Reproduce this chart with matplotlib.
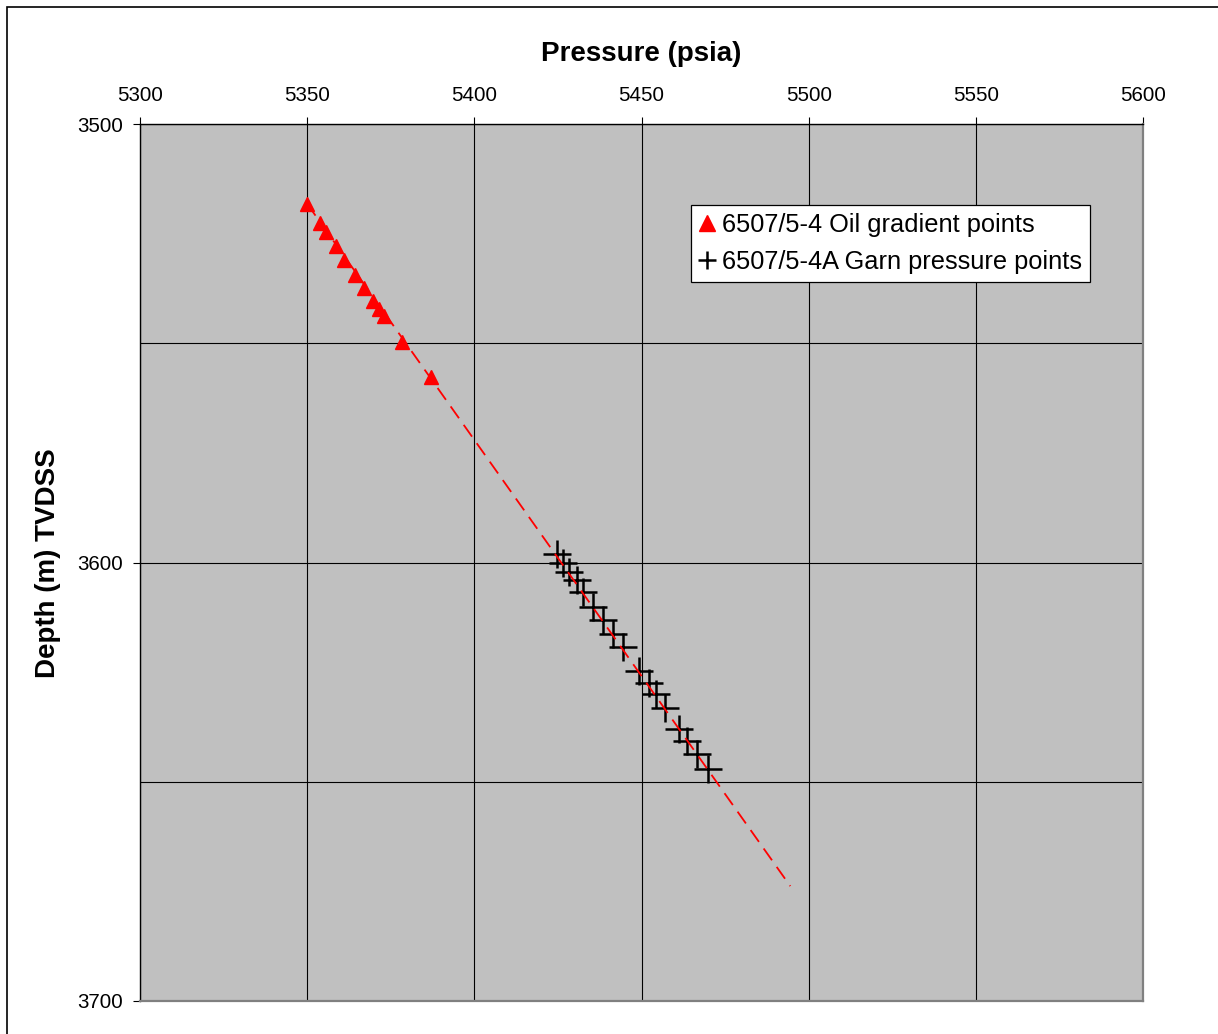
import matplotlib
matplotlib.use("Agg")
import matplotlib.pyplot as plt
from matplotlib.lines import Line2D
from matplotlib.patches import Rectangle
from matplotlib.ticker import MultipleLocator

plt.rcParams['font.family'] = ['Liberation Sans', 'DejaVu Sans']

# ---- data ----
oil_pressure = [5350.0, 5353.8, 5355.6, 5358.6, 5361.0, 5364.3, 5367.0, 5369.7,
                5371.5, 5373.0, 5378.4, 5387.0]
oil_depth = [3518.2, 3522.6, 3524.6, 3527.8, 3531.0, 3534.4, 3537.4, 3540.4,
             3542.2, 3543.8, 3549.7, 3557.7]

garn_pressure = [5424.8, 5426.6, 5428.4, 5430.6, 5432.6, 5435.6, 5438.6, 5441.6,
                 5444.4, 5449.2, 5452.2, 5454.3, 5457.1, 5461.3, 5463.7, 5466.7,
                 5470.0]
garn_depth = [3598.1, 3600.2, 3602.1, 3604.0, 3606.8, 3610.1, 3613.1, 3616.3,
              3619.2, 3624.7, 3627.5, 3630.0, 3633.2, 3638.0, 3640.6, 3643.7,
              3647.0]

gradient_pressure = [5350.0, 5494.5]
gradient_depth = [3518.2, 3673.8]

x_ticks = [5300, 5350, 5400, 5450, 5500, 5550, 5600]
y_ticks = [3500, 3600, 3700]

legend_labels = ["6507/5-4 Oil gradient points", "6507/5-4A Garn pressure points"]
x_title = "Pressure (psia)"
y_title = "Depth (m) TVDSS"

# ---- figure ----
W, H = 1218, 1034
fig = plt.figure(figsize=(W / 100, H / 100), dpi=100)
L, R, T, B = 140, 1143, 124, 1001
ax = fig.add_axes([L / W, (H - B) / H, (R - L) / W, (B - T) / H])
ax.set_facecolor('#C0C0C0')

ax.set_xlim(5300, 5600)
ax.set_ylim(3700, 3500)
ax.set_xticks(x_ticks)
ax.set_yticks(y_ticks)
ax.yaxis.set_minor_locator(MultipleLocator(50))
ax.tick_params(axis='y', which='minor', length=0)

ax.xaxis.tick_top()
ax.tick_params(axis='x', which='major', direction='out', length=5, width=0.8,
               labelsize=14.8, pad=8.5, colors='black')
ax.tick_params(axis='y', which='major', direction='out', length=5, width=0.8,
               labelsize=14.8, pad=7.0, colors='black')

ax.grid(True, which='both', color='black', linewidth=0.8)
ax.set_axisbelow(True)

for side in ['top', 'left']:
    ax.spines[side].set_color('black')
    ax.spines[side].set_linewidth(1.0)
for side in ['right', 'bottom']:
    ax.spines[side].set_color('#808080')
    ax.spines[side].set_linewidth(1.6)

ax.plot(garn_pressure, garn_depth, linestyle='none', marker='+',
        markersize=19.5, markeredgewidth=1.8, color='black', zorder=3)
ax.plot(gradient_pressure, gradient_depth, color='#FF0000', linewidth=1.3,
        dashes=(8, 4.5), zorder=4)
ax.plot(oil_pressure, oil_depth, linestyle='none', marker='^',
        markersize=10, color='#FF0000', markeredgecolor='#FF0000', zorder=5)

handles = [
    Line2D([], [], linestyle='none', marker='^', markersize=11,
           color='#FF0000', markeredgecolor='#FF0000'),
    Line2D([], [], linestyle='none', marker='+', markersize=13,
           markeredgewidth=1.8, color='black'),
]
leg = ax.legend(handles, legend_labels, loc='upper left',
                bbox_to_anchor=((691 - L) / (R - L), 1 - (205 - T) / (B - T)),
                borderaxespad=0, fontsize=18.3, frameon=True, fancybox=False,
                edgecolor='black', facecolor='white', framealpha=1,
                handlelength=0.6, handletextpad=0.28, borderpad=0.33,
                labelspacing=0.5)
leg.get_frame().set_linewidth(0.9)

fig.text(641.5 / W, 1 - 61 / H, x_title, ha='center', va='baseline',
         fontsize=20, fontweight='bold')
fig.text(48 / W, 1 - 563 / H, y_title, ha='center', va='center',
         rotation=90, fontsize=20, fontweight='bold')

fig.add_artist(Rectangle((7 / W, -0.05), 1.2, 1.05 - 7 / H, transform=fig.transFigure,
                         fill=False, edgecolor='black', linewidth=1.2))

fig.savefig('out.png', dpi=100)
